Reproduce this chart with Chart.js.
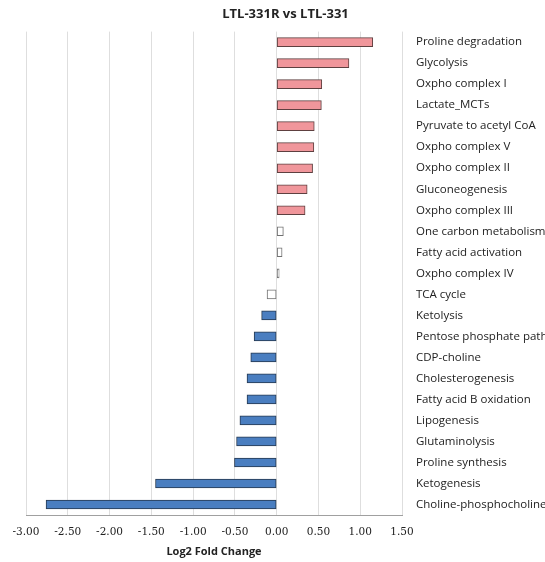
<!DOCTYPE html>
<html lang="en">
  <head>
    <meta charset="UTF-8" />
    <title>LTL-331R vs LTL-331</title>
    <style>
      html, body { margin: 0; padding: 0; background: #fff; }
      #wrap { width: 545px; height: 562px; }
    </style>
  </head>
  <body>
    <div id="wrap"><canvas id="myChart" width="545" height="562"></canvas></div>
    <script src="https://cdn.jsdelivr.net/npm/chart.js@4/dist/chart.umd.min.js"></script>
    <script>
      const pathways = [
        "Proline degradation", "Glycolysis", "Oxpho complex I", "Lactate_MCTs",
        "Pyruvate to acetyl CoA", "Oxpho complex V", "Oxpho complex II", "Gluconeogenesis",
        "Oxpho complex III", "One carbon metabolism", "Fatty acid activation", "Oxpho complex IV",
        "TCA cycle", "Ketolysis", "Pentose phosphate pathway", "CDP-choline",
        "Cholesterogenesis", "Fatty acid B oxidation", "Lipogenesis", "Glutaminolysis",
        "Proline synthesis", "Ketogenesis", "Choline-phosphocholine",
      ];
      const foldChange = [
        1.15, 0.865, 0.54, 0.535, 0.45, 0.445, 0.43, 0.365, 0.34, 0.08, 0.065, 0.03,
        -0.115, -0.18, -0.27, -0.31, -0.355, -0.355, -0.44, -0.48, -0.505, -1.45, -2.76,
      ];
      // up / ns / down groups
      const group = [
        "up", "up", "up", "up", "up", "up", "up", "up", "up", "ns", "ns", "ns",
        "ns", "down", "down", "down", "down", "down", "down", "down", "down", "down", "down",
      ];
      const xTicks = [-3, -2.5, -2, -1.5, -1, -0.5, 0, 0.5, 1, 1.5];

      const fills = { up: "#F0969B", ns: "#FFFFFF", down: "#4A7EC0" };
      const borders = { up: "#5E4040", ns: "#707070", down: "#26384F" };

      const ctx = document.getElementById("myChart").getContext("2d");
      new Chart(ctx, {
        type: "bar",
        data: {
          labels: pathways,
          datasets: [
            {
              data: foldChange,
              backgroundColor: group.map((g) => fills[g]),
              borderColor: group.map((g) => borders[g]),
              borderWidth: 1,
              borderSkipped: false,
              barThickness: 9,
            },
          ],
        },
        options: {
          indexAxis: "y",
          responsive: false,
          animation: false,
          layout: { padding: { left: 26, top: 0, bottom: 4 } },
          plugins: {
            legend: { display: false },
            tooltip: { enabled: false },
            title: {
              display: true,
              text: "LTL-331R vs LTL-331",
              color: "#222",
              font: { family: "Open Sans", size: 13, weight: "bold" },
              padding: { top: 6, bottom: 10 },
            },
          },
          scales: {
            x: {
              min: -3,
              max: 1.5,
              afterBuildTicks: (scale) => {
                scale.ticks = xTicks.map((v) => ({ value: v }));
              },
              afterFit: (scale) => {
                scale.height = 43;
              },
              grid: { color: "#DEDEDE", drawTicks: false },
              border: { color: "#A0A0A0" },
              ticks: {
                color: "#222",
                padding: 11,
                font: { family: "DejaVu Serif", size: 10.5 },
                callback: (v) => Number(v).toFixed(2),
              },
              title: {
                display: true,
                text: "Log2 Fold Change",
                color: "#222",
                font: { family: "Open Sans", size: 11, weight: "bold" },
                padding: { top: 0, bottom: 0 },
              },
            },
            y: {
              position: "right",
              afterFit: (scale) => {
                scale.width = 143;
              },
              grid: { display: false },
              border: { display: false },
              ticks: {
                color: "#222",
                padding: 6,
                crossAlign: "near",
                font: { family: "Open Sans", size: 11.5 },
              },
            },
          },
        },
      });
    </script>
  </body>
</html>
